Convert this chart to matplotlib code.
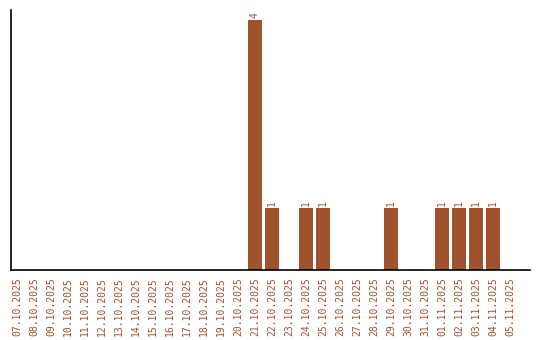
import matplotlib
matplotlib.use("Agg")
import matplotlib.pyplot as plt

dates = ["07.10.2025", "08.10.2025", "09.10.2025", "10.10.2025", "11.10.2025",
         "12.10.2025", "13.10.2025", "14.10.2025", "15.10.2025", "16.10.2025",
         "17.10.2025", "18.10.2025", "19.10.2025", "20.10.2025", "21.10.2025",
         "22.10.2025", "23.10.2025", "24.10.2025", "25.10.2025", "26.10.2025",
         "27.10.2025", "28.10.2025", "29.10.2025", "30.10.2025", "31.10.2025",
         "01.11.2025", "02.11.2025", "03.11.2025", "04.11.2025", "05.11.2025"]
counts = [0, 0, 0, 0, 0, 0, 0, 0, 0, 0, 0, 0, 0, 0, 4,
          1, 0, 1, 1, 0, 0, 0, 1, 0, 0, 1, 1, 1, 1, 0]

brown = "#a0522d"

fig = plt.figure(figsize=(5.4, 3.4), dpi=100)
ax = fig.add_axes([11 / 540, 70 / 340, 519 / 540, 260 / 340])

x = range(len(dates))
bars = ax.bar(x, counts, width=0.82, color=brown)

for b, v in zip(bars, counts):
    if v > 0:
        ax.text(b.get_x() + b.get_width() / 2, v + 0.03, str(v), rotation=90,
                ha="center", va="bottom", color=brown, fontsize=7,
                family="DejaVu Sans Mono")

ax.set_xlim(-0.35, 30.18)
ax.set_ylim(0, 4.16)
ax.set_xticks(list(x))
ax.set_xticklabels(dates, rotation=90, color=brown, fontsize=7,
                   family="DejaVu Sans Mono")
ax.tick_params(axis="x", length=0, pad=5)
ax.set_yticks([])
for s in ["top", "right"]:
    ax.spines[s].set_visible(False)
for s in ["left", "bottom"]:
    ax.spines[s].set_color("black")
    ax.spines[s].set_linewidth(1.2)

fig.savefig("out.png", dpi=100)
